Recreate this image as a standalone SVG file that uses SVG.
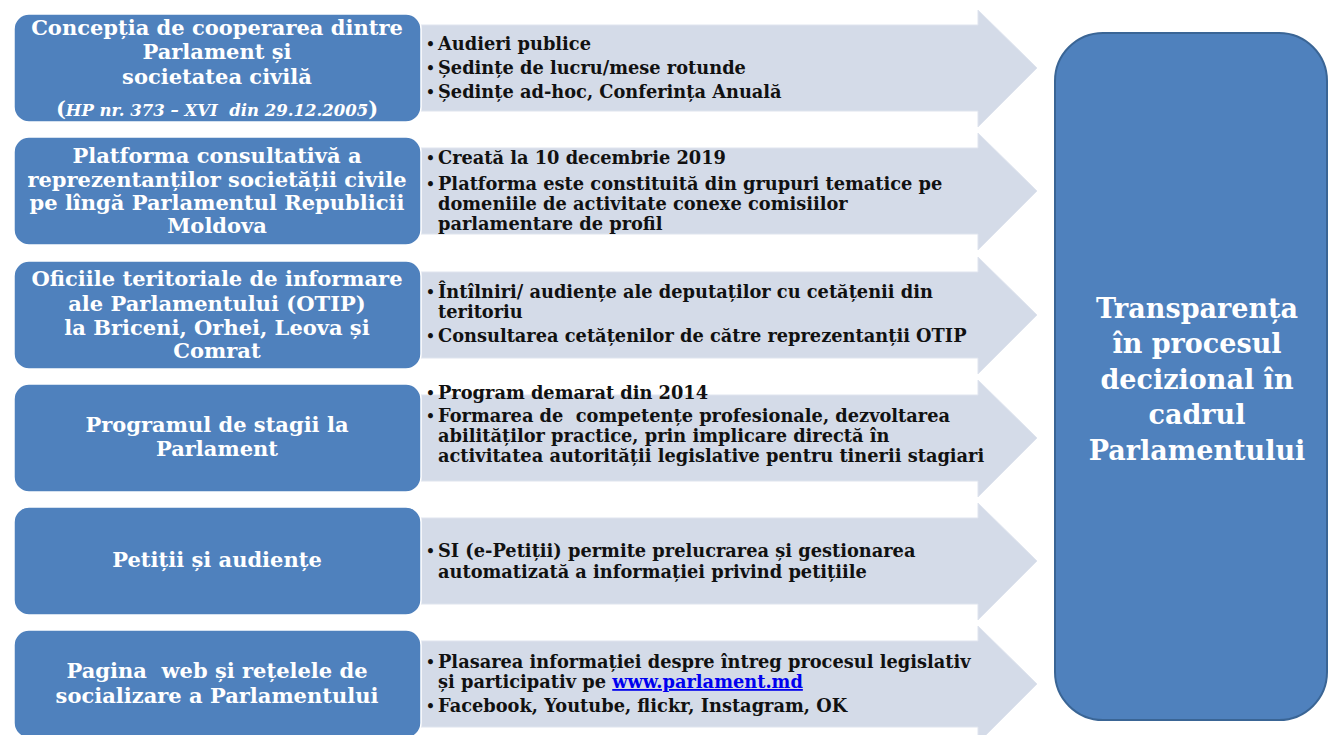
<svg xmlns="http://www.w3.org/2000/svg" width="1330" height="735" viewBox="0 0 1330 735">
<style>
.box{fill:#4f81bd;stroke:#ffffff;stroke-width:1.5}
.big{fill:#4f81bd;stroke:#3a6595;stroke-width:2}
.arr{fill:#d4dbe8;stroke:#dfe4ee;stroke-width:1}
.lt{font-family:"DejaVu Serif","Liberation Serif",serif;font-weight:bold;font-size:21px;fill:#ffffff;text-anchor:middle}
.rt{font-family:"DejaVu Serif","Liberation Serif",serif;font-weight:bold;font-size:27px;fill:#ffffff;text-anchor:middle}
.bt{font-family:"DejaVu Serif","Liberation Serif",serif;font-weight:bold;font-size:17.8px;fill:#111111}
.bu{font-family:"DejaVu Serif","Liberation Serif",serif;font-weight:bold;font-size:14px;fill:#111111}
.lnk{fill:#0000ee;text-decoration:underline}
</style>
<rect width="1330" height="735" fill="#ffffff"/>
<g id="connectors">
<polygon class="arr" points="415,25 978,25 978,10 1037,68 978,127 978,111 415,111"/>
<polygon class="arr" points="415,148 978,148 978,133 1037,191 978,250 978,234 415,234"/>
<polygon class="arr" points="415,272 978,272 978,257 1037,315 978,374 978,358 415,358"/>
<polygon class="arr" points="415,395 978,395 978,380 1037,438 978,497 978,481 415,481"/>
<polygon class="arr" points="415,518 978,518 978,503 1037,561 978,620 978,604 415,604"/>
<polygon class="arr" points="415,641 978,641 978,626 1037,684 978,743 978,727 415,727"/>
</g>
<g id="node1">
<rect class="box" x="14" y="14" width="407" height="108" rx="15"/>
<text class="lt" x="217" y="35">Concepția de cooperarea dintre</text>
<text class="lt" x="217" y="59">Parlament și</text>
<text class="lt" x="217" y="84">societatea civilă</text>
<text class="lt" x="217" y="116" xml:space="preserve">(<tspan font-style="italic" font-size="16.5">HP nr. 373 – XVI  din 29.12.2005</tspan>)</text>
</g>
<g id="node2">
<rect class="box" x="14" y="137" width="407" height="108" rx="15"/>
<text class="lt" x="217" y="163">Platforma consultativă a</text>
<text class="lt" x="217" y="187">reprezentanților societății civile</text>
<text class="lt" x="217" y="210">pe lîngă Parlamentul Republicii</text>
<text class="lt" x="217" y="233">Moldova</text>
</g>
<g id="node3">
<rect class="box" x="14" y="261" width="407" height="108" rx="15"/>
<text class="lt" x="217" y="286">Oficiile teritoriale de informare</text>
<text class="lt" x="217" y="311">ale Parlamentului (OTIP)</text>
<text class="lt" x="217" y="335">la Briceni, Orhei, Leova și</text>
<text class="lt" x="217" y="358">Comrat</text>
</g>
<g id="node4">
<rect class="box" x="14" y="384" width="407" height="108" rx="15"/>
<text class="lt" x="217" y="432">Programul de stagii la</text>
<text class="lt" x="217" y="456">Parlament</text>
</g>
<g id="node5">
<rect class="box" x="14" y="507" width="407" height="108" rx="15"/>
<text class="lt" x="217" y="567">Petiții și audiențe</text>
</g>
<g id="node6">
<rect class="box" x="14" y="630" width="407" height="108" rx="15"/>
<text class="lt" x="217" y="678" xml:space="preserve">Pagina  web și rețelele de</text>
<text class="lt" x="217" y="703">socializare a Parlamentului</text>
</g>
<g id="node7">
<rect class="big" x="1055" y="33" width="272" height="687" rx="48"/>
<text class="rt" x="1197" y="318">Transparența</text>
<text class="rt" x="1197" y="353">în procesul</text>
<text class="rt" x="1197" y="389">decizional în</text>
<text class="rt" x="1197" y="424">cadrul</text>
<text class="rt" x="1197" y="460">Parlamentului</text>
</g>
<g id="bullets">
<text class="bu" x="426" y="49">•</text>
<text class="bt" x="438" y="50">Audieri publice</text>
<text class="bu" x="426" y="73">•</text>
<text class="bt" x="438" y="74">Ședințe de lucru/mese rotunde</text>
<text class="bu" x="426" y="97">•</text>
<text class="bt" x="438" y="98">Ședințe ad-hoc, Conferința Anuală</text>
<text class="bu" x="426" y="163">•</text>
<text class="bt" x="438" y="164">Creată la 10 decembrie 2019</text>
<text class="bu" x="426" y="189">•</text>
<text class="bt" x="438" y="190">Platforma este constituită din grupuri tematice pe</text>
<text class="bt" x="438" y="210">domeniile de activitate conexe comisiilor</text>
<text class="bt" x="438" y="230">parlamentare de profil</text>
<text class="bu" x="426" y="297">•</text>
<text class="bt" x="438" y="298">Întîlniri/ audiențe ale deputaților cu cetățenii din</text>
<text class="bt" x="438" y="318">teritoriu</text>
<text class="bu" x="426" y="341">•</text>
<text class="bt" x="438" y="342">Consultarea cetățenilor de către reprezentanții OTIP</text>
<text class="bu" x="426" y="398">•</text>
<text class="bt" x="438" y="399">Program demarat din 2014</text>
<text class="bu" x="426" y="421">•</text>
<text class="bt" x="438" y="422" xml:space="preserve">Formarea de  competențe profesionale, dezvoltarea</text>
<text class="bt" x="438" y="442">abilităților practice, prin implicare directă în</text>
<text class="bt" x="438" y="462">activitatea autorității legislative pentru tinerii stagiari</text>
<text class="bu" x="426" y="556">•</text>
<text class="bt" x="438" y="557">SI (e-Petiții) permite prelucrarea și gestionarea</text>
<text class="bt" x="438" y="578">automatizată a informației privind petițiile</text>
<text class="bu" x="426" y="667">•</text>
<text class="bt" x="438" y="668">Plasarea informației despre întreg procesul legislativ</text>
<text class="bt" x="438" y="688">și participativ pe <tspan class="lnk">www.parlament.md</tspan></text>
<text class="bu" x="426" y="711">•</text>
<text class="bt" x="438" y="712">Facebook, Youtube, flickr, Instagram, OK</text>
</g>
</svg>
